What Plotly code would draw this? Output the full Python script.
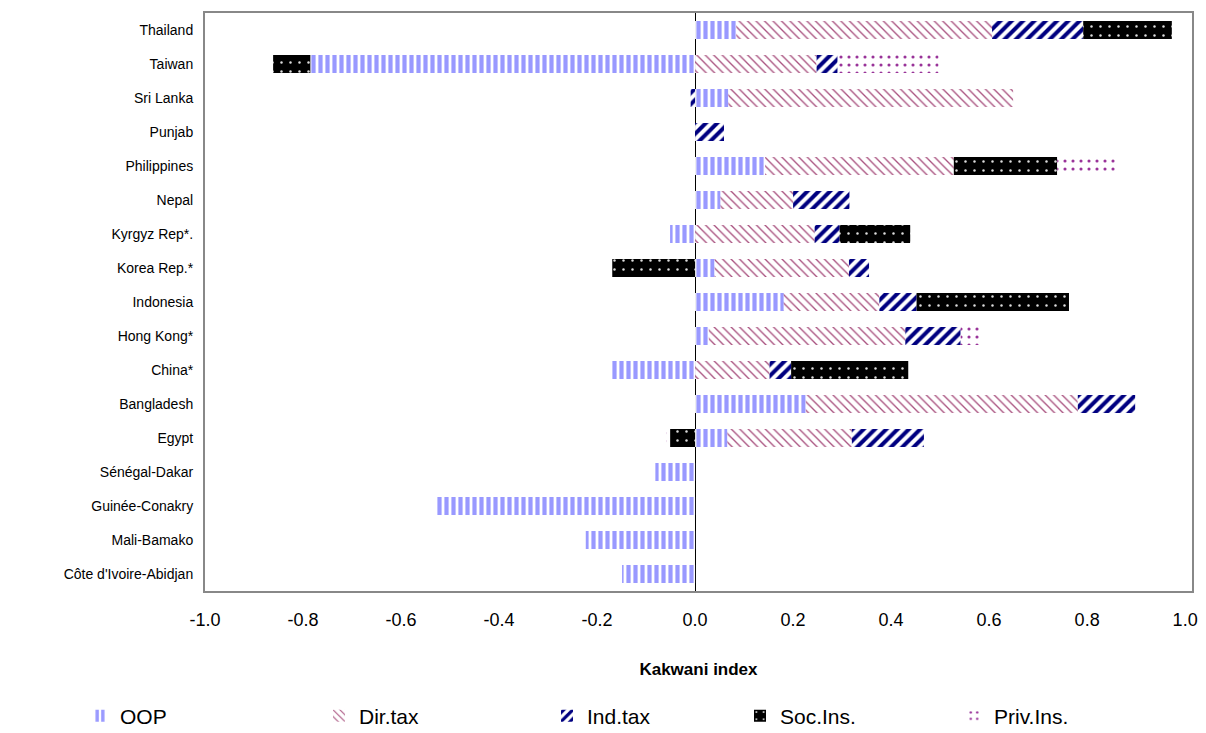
import plotly.graph_objects as go

countries = ["Thailand", "Taiwan", "Sri Lanka", "Punjab", "Philippines", "Nepal",
             "Kyrgyz Rep*.", "Korea Rep.*", "Indonesia", "Hong Kong*", "China*",
             "Bangladesh", "Egypt", "Sénégal-Dakar", "Guinée-Conakry", "Mali-Bamako",
             "Côte d'Ivoire-Abidjan"]

oop      = [0.084, -0.785, 0.068, 0.0, 0.143, 0.052, -0.051, 0.040, 0.181, 0.028, -0.171, 0.226, 0.066, -0.081, -0.527, -0.223, -0.149]
dir_tax  = [0.522, 0.248, 0.581, 0.0, 0.385, 0.148, 0.244, 0.274, 0.195, 0.401, 0.152, 0.555, 0.254, 0.0, 0.0, 0.0, 0.0]
ind_tax  = [0.186, 0.043, -0.009, 0.059, 0.0, 0.115, 0.051, 0.041, 0.076, 0.113, 0.044, 0.117, 0.147, 0.0, 0.0, 0.0, 0.0]
soc_ins  = [0.181, -0.076, 0.0, 0.0, 0.211, 0.0, 0.144, -0.169, 0.311, 0.0, 0.239, 0.0, -0.051, 0.0, 0.0, 0.0, 0.0]
priv_ins = [0.006, 0.206, 0.0, 0.0, 0.120, 0.0, 0.0, 0.0, 0.0, 0.038, 0.0, 0.0, -0.007, 0.0, 0.0, 0.0, 0.0]

series = [
    ("OOP", oop, dict(shape="|", fgcolor="#9999ff", bgcolor="white", size=7, solidity=0.6, fgopacity=1), "white", 108),
    ("Dir.tax", dir_tax, dict(shape="\\", fgcolor="#a8507e", bgcolor="white", size=6, solidity=0.22, fgopacity=1), "white", 347),
    ("Ind.tax", ind_tax, dict(shape="/", fgcolor="#000080", bgcolor="white", size=8, solidity=0.5, fgopacity=1), "white", 575),
    ("Soc.Ins.", soc_ins, dict(shape=".", fgcolor="#dddddd", bgcolor="black", size=9, solidity=0.06, fgopacity=1), "black", 768),
    ("Priv.Ins.", priv_ins, dict(shape=".", fgcolor="#993399", bgcolor="white", size=8, solidity=0.12, fgopacity=1), "white", 982),
]

fig = go.Figure()
L, R, T, B = 205, 14, 13, 142
W, H = 1206, 733
pw = W - L - R
ph = H - T - B

layout_legends = {}
for i, (name, vals, pat, col, sx) in enumerate(series):
    lname = "legend" if i == 0 else f"legend{i+1}"
    fig.add_trace(go.Bar(
        y=countries, x=vals, name=name, orientation="h",
        marker=dict(color=col, pattern=pat, line=dict(width=0)),
        legend=lname, showlegend=True,
    ))
    layout_legends[lname] = dict(
        x=(sx - 28 - L) / pw, xanchor="left",
        y=-(716 - (T + ph)) / ph, yanchor="middle",
        bgcolor="rgba(0,0,0,0)",
        font=dict(family="Liberation Sans, Arial, sans-serif", size=21, color="black"),
        itemwidth=30,
    )

fig.update_layout(
    barmode="relative",
    bargap=0.47,
    showlegend=True,
    width=W, height=H,
    margin=dict(l=L, r=R, t=T, b=B, autoexpand=False),
    paper_bgcolor="white",
    plot_bgcolor="white",
    font=dict(family="Liberation Sans, Arial, sans-serif", color="black"),
    **layout_legends,
)

fig.update_xaxes(
    range=[-1.0, 1.014],
    tickvals=[-1.0, -0.8, -0.6, -0.4, -0.2, 0.0, 0.2, 0.4, 0.6, 0.8, 1.0],
    ticktext=["-1.0", "-0.8", "-0.6", "-0.4", "-0.2", "0.0", "0.2", "0.4", "0.6", "0.8", "1.0"],
    tickfont=dict(size=18),
    ticklabelstandoff=11,
    showgrid=False,
    zeroline=True, zerolinecolor="black", zerolinewidth=1,
    showline=True, linecolor="#888888", linewidth=2, mirror=True,
    title=dict(text="<b>Kakwani index</b>", font=dict(size=17), standoff=35),
)
fig.update_yaxes(
    categoryorder="array", categoryarray=countries,
    autorange="reversed",
    tickfont=dict(size=14),
    ticklabelstandoff=7,
    showgrid=False,
    showline=True, linecolor="#888888", linewidth=2, mirror=True,
)

fig.write_html("out.html", config={"displayModeBar": False},
               post_script="document.body.style.margin='0';document.body.style.padding='0';")
